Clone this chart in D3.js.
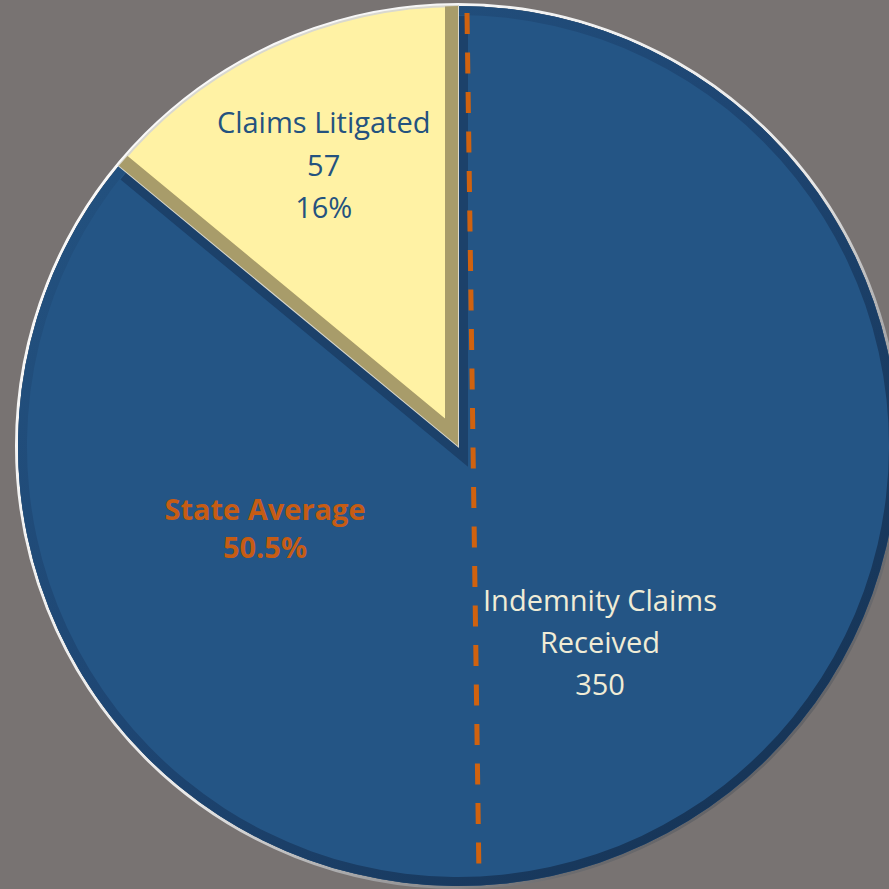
<!DOCTYPE html>
<html>
  <head>
    <script type="text/javascript" src="https://cdn.jsdelivr.net/npm/d3@7"></script>
    <style type="text/css">

html, body {
  margin: 0;
  background: #787372;
}

svg {
  display: block;
}

text {
  font-family: "Open Sans", Lato, sans-serif;
  text-anchor: middle;
}

    </style>
  </head>
  <body>
    <div id="chart"></div>
    <script type="text/javascript">

// slice values (pie is drawn 57 vs 350, labels show 57/350)
var values = [57, 350];
var sliceNames = ["litigated", "received"];
var litigatedLines = ["Claims Litigated", "57", "16%"];
var receivedLines = ["Indemnity Claims", "Received", "350"];
var averageLines = ["State Average", "50.5%"];

var width = 889, height = 889;
var cx = 458, cy = 446, radius = 440;

var svg = d3.select("#chart").append("svg")
    .attr("width", width)
    .attr("height", height);

var defs = svg.append("defs");

// highlight round the rim: white top-left, dark bottom-right
var rimGrad = defs.append("linearGradient")
    .attr("id", "rimGrad")
    .attr("x1", "0").attr("y1", "0")
    .attr("x2", "1").attr("y2", "1");
rimGrad.append("stop").attr("offset", "0%").attr("stop-color", "#ffffff");
rimGrad.append("stop").attr("offset", "55%").attr("stop-color", "#e8e8e8");
rimGrad.append("stop").attr("offset", "80%").attr("stop-color", "#6d6d70");
rimGrad.append("stop").attr("offset", "100%").attr("stop-color", "#4a4a4e");

// inner dark band: faint top-left, strong bottom-right
var bandGrad = defs.append("linearGradient")
    .attr("id", "bandGrad")
    .attr("gradientUnits", "userSpaceOnUse")
    .attr("x1", -radius * 0.7).attr("y1", -radius * 0.7)
    .attr("x2", radius * 0.7).attr("y2", radius * 0.7);
bandGrad.append("stop").attr("offset", "0%").attr("stop-color", "#22507E");
bandGrad.append("stop").attr("offset", "45%").attr("stop-color", "#1E4673");
bandGrad.append("stop").attr("offset", "100%").attr("stop-color", "#173659");

var g = svg.append("g")
    .attr("transform", "translate(" + cx + "," + cy + ")");

var yellowAngle = 2 * Math.PI * values[0] / d3.sum(values);

var pie = d3.pie()
    .sort(null)
    .startAngle(-yellowAngle)
    .endAngle(2 * Math.PI - yellowAngle);

var arcs = pie(values);

var arc = d3.arc().innerRadius(0).outerRadius(radius);
var rimArc = d3.arc().innerRadius(radius - 9).outerRadius(radius);

var color = d3.scaleOrdinal()
    .domain(sliceNames)
    .range(["#FFF2A4", "#245585"]);

// outer highlight ring
g.append("circle")
    .attr("r", radius + 1.5)
    .attr("fill", "none")
    .attr("stroke", "url(#rimGrad)")
    .attr("stroke-width", 3);

// blue slice
g.append("path")
    .attr("d", arc(arcs[1]))
    .attr("fill", color(sliceNames[1]));

g.append("path")
    .attr("d", rimArc(arcs[1]))
    .attr("fill", "url(#bandGrad)");

// radial edges of the yellow wedge
function edgePath(d, r) {
  var a0 = d.startAngle, a1 = d.endAngle;
  return "M" + (r * Math.sin(a0)) + "," + (-r * Math.cos(a0)) +
    "L0,0" +
    "L" + (r * Math.sin(a1)) + "," + (-r * Math.cos(a1));
}

// shadow cast onto the blue slice
g.append("path")
    .attr("d", edgePath(arcs[0], radius - 4))
    .attr("transform", "translate(3,6)")
    .attr("fill", "none")
    .attr("stroke", "#1C416A")
    .attr("stroke-width", 14)
    .attr("stroke-linejoin", "miter");

g.append("clipPath")
    .attr("id", "yellowClip")
  .append("path")
    .attr("d", arc(arcs[0]));

g.append("path")
    .attr("d", arc(arcs[0]))
    .attr("fill", color(sliceNames[0]))
    .attr("stroke", "#d9d8cf")
    .attr("stroke-width", 2);

// bevel along the yellow wedge's straight edges
g.append("path")
    .attr("d", edgePath(arcs[0], radius + 10))
    .attr("clip-path", "url(#yellowClip)")
    .attr("fill", "none")
    .attr("stroke", "#A89C6A")
    .attr("stroke-width", 26)
    .attr("stroke-linejoin", "miter");

// state average dashed line
svg.append("line")
    .attr("x1", 467).attr("y1", 13)
    .attr("x2", 479).attr("y2", 878)
    .attr("stroke", "#D0620F")
    .attr("stroke-width", 5)
    .attr("stroke-dasharray", "21,18.5");

// labels
var litigatedPos = d3.arc().innerRadius(0).outerRadius(radius * 1.38).centroid(arcs[0]);

g.append("text")
    .attr("transform", "translate(" + (litigatedPos[0] - 5) + "," + (litigatedPos[1] - 38) + ")")
    .attr("fill", "#24527F")
    .attr("font-size", 29)
  .selectAll("tspan")
    .data(litigatedLines)
  .enter().append("tspan")
    .attr("x", 0)
    .attr("y", function(d, i) { return i * 42.5; })
    .text(function(d) { return d; });

g.append("text")
    .attr("transform", "translate(" + (600 - cx) + "," + (611 - cy) + ")")
    .attr("fill", "#F0ECD6")
    .attr("font-size", 29)
  .selectAll("tspan")
    .data(receivedLines)
  .enter().append("tspan")
    .attr("x", 0)
    .attr("y", function(d, i) { return i * 42; })
    .text(function(d) { return d; });

g.append("text")
    .attr("transform", "translate(" + (265 - cx) + "," + (520 - cy) + ")")
    .attr("fill", "#C65C14")
    .attr("font-size", 29)
    .attr("font-weight", "bold")
  .selectAll("tspan")
    .data(averageLines)
  .enter().append("tspan")
    .attr("x", 0)
    .attr("y", function(d, i) { return i * 37.5; })
    .text(function(d) { return d; });

    </script>
  </body>
</html>
